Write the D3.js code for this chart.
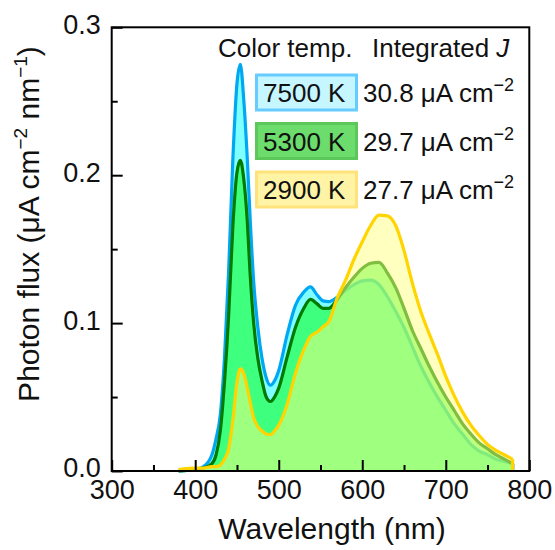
<!DOCTYPE html>
<html>
<head>
<meta charset="utf-8">
<script src="https://cdn.jsdelivr.net/npm/d3@7"></script>
<style>
  body { margin: 0; background: #fff; }
  svg text { font-family: "Liberation Sans", Arial, sans-serif; fill: #111; }
</style>
</head>
<body>
<div id="chart"></div>
<script>
(function(global) {
"use strict";

// wavelength grid (nm) and photon flux (uA cm-2 nm-1)
const wavelength = [380, 400, 410, 420, 425, 430, 435, 440, 445, 450, 454, 458, 462, 466, 470, 475, 480, 485, 490, 495,
                    500, 510, 520, 530, 538, 546, 553, 560, 570, 580, 590, 600, 610, 620, 630, 640, 650, 660, 670, 680,
                    690, 700, 710, 720, 730, 740, 750, 760, 770, 780];
const flux7500 = [0.000, 0.001, 0.003, 0.011, 0.022, 0.038, 0.076, 0.135, 0.210, 0.262, 0.275, 0.252, 0.215, 0.168, 0.128, 0.097, 0.076, 0.063, 0.058, 0.061,
                  0.068, 0.092, 0.112, 0.121, 0.1245, 0.119, 0.115, 0.1145, 0.1175, 0.122, 0.126, 0.1285, 0.129, 0.126, 0.118, 0.108, 0.097, 0.084, 0.071, 0.060,
                  0.050, 0.041, 0.032, 0.025, 0.018, 0.0135, 0.011, 0.008, 0.0065, 0.005];
const flux5300 = [0.000, 0.001, 0.002, 0.005, 0.011, 0.027, 0.060, 0.105, 0.165, 0.202, 0.210, 0.198, 0.172, 0.131, 0.100, 0.076, 0.061, 0.050, 0.047, 0.050,
                  0.056, 0.077, 0.097, 0.110, 0.116, 0.113, 0.110, 0.110, 0.116, 0.124, 0.131, 0.137, 0.1405, 0.141, 0.134, 0.124, 0.110, 0.095, 0.083, 0.071,
                  0.060, 0.050, 0.041, 0.032, 0.025, 0.019, 0.015, 0.011, 0.008, 0.005];
const flux2900 = [0.001, 0.002, 0.002, 0.003, 0.003, 0.004, 0.008, 0.015, 0.034, 0.060, 0.069, 0.066, 0.057, 0.046, 0.036, 0.030, 0.027, 0.025, 0.0245, 0.027,
                  0.031, 0.045, 0.066, 0.082, 0.091, 0.094, 0.0975, 0.101, 0.117, 0.129, 0.143, 0.155, 0.166, 0.173, 0.1725, 0.166, 0.149, 0.127, 0.108, 0.093,
                  0.079, 0.064, 0.051, 0.040, 0.031, 0.024, 0.018, 0.014, 0.011, 0.008];

const colorTemps = ["7500 K", "5300 K", "2900 K"];
const integratedJ = ["30.8", "29.7", "27.7"];

const xMajor = [300, 400, 500, 600, 700, 800];
const xMinor = [350, 450, 550, 650, 750];
const yMajor = [0.0, 0.1, 0.2, 0.3];
const yMinor = [0.05, 0.15, 0.25];

const series = [
  { flux: flux7500, line: "#00a8f4", fill: "#00ffff", fillOp: 0.5, box: "#c6f6ff", boxLine: "#66ccff" },
  { flux: flux5300, line: "#007a00", fill: "#00ff00", fillOp: 0.5, box: "#6cdc6c", boxLine: "#5cc85c" },
  { flux: flux2900, line: "#ffd400", fill: "#ffff80", fillOp: 0.5, box: "#fff4a6", boxLine: "#ffe27a" }
];

const W = 555, H = 550;
const m = { left: 111.7, top: 27.3, right: 529.3, bottom: 471 };

const svg = d3.select("#chart")
              .append("svg")
              .attr("width", W)
              .attr("height", H);

const x = d3.scaleLinear().domain([300, 800]).range([m.left, m.right]);
const y = d3.scaleLinear().domain([0, 0.3]).range([m.bottom, m.top]);

const area = d3.area()
               .x((d, i) => x(wavelength[i]))
               .y0(y(0))
               .y1(d => y(d))
               .curve(d3.curveMonotoneX);
const line = d3.line()
               .x((d, i) => x(wavelength[i]))
               .y(d => y(d))
               .curve(d3.curveMonotoneX);

const plot = svg.append("g");
series.forEach(s => {
  plot.append("path")
      .attr("d", area(s.flux))
      .attr("fill", s.fill)
      .attr("fill-opacity", s.fillOp);
  plot.append("path")
      .attr("d", line(s.flux))
      .attr("fill", "none")
      .attr("stroke", s.line)
      .attr("stroke-width", 3.2)
      .attr("stroke-linejoin", "round");
  // closing edge at the end of the spectrum
  const last = wavelength.length - 1;
  plot.append("line")
      .attr("x1", x(wavelength[last])).attr("x2", x(wavelength[last]))
      .attr("y1", y(s.flux[last])).attr("y2", y(0))
      .attr("stroke", s.line)
      .attr("stroke-width", 3.2);
});

// axes -----------------------------------------------------------------------
const fontTick = 27;
svg.append("g")
   .attr("transform", `translate(0,${m.bottom})`)
   .call(d3.axisBottom(x).tickValues(xMajor).tickSize(-11).tickPadding(9));
svg.append("g")
   .attr("transform", `translate(0,${m.bottom})`)
   .call(d3.axisBottom(x).tickValues(xMinor).tickSize(-6).tickFormat(""));
svg.append("g")
   .attr("class", "y-major")
   .attr("transform", `translate(${m.left},0)`)
   .call(d3.axisLeft(y).tickValues(yMajor).tickSize(-11).tickPadding(11).tickFormat(d3.format(".1f")));
svg.append("g")
   .attr("transform", `translate(${m.left},0)`)
   .call(d3.axisLeft(y).tickValues(yMinor).tickSize(-6).tickFormat(""));

svg.selectAll(".domain").remove();
svg.selectAll(".tick line").attr("stroke", "#000").attr("stroke-width", 2);
svg.selectAll(".tick text")
   .attr("font-size", fontTick)
   .attr("font-family", "Liberation Sans, Arial, sans-serif")
   .attr("fill", "#111");
// y labels sit a little above their ticks, as in the figure
svg.selectAll(".y-major .tick text").attr("dy", "0.22em");

svg.append("rect")
   .attr("x", m.left).attr("y", m.top)
   .attr("width", m.right - m.left).attr("height", m.bottom - m.top)
   .attr("fill", "none")
   .attr("stroke", "#000")
   .attr("stroke-width", 2);

// axis titles ----------------------------------------------------------------
svg.append("text")
   .attr("x", 332).attr("y", 539)
   .attr("text-anchor", "middle")
   .attr("font-size", 30)
   .text("Wavelength (nm)");

const yTitle = svg.append("text")
                  .attr("transform", "translate(39,224) rotate(-90)")
                  .attr("text-anchor", "middle")
                  .attr("font-size", 30);
yTitle.append("tspan").text("Photon flux (μA cm");
yTitle.append("tspan").attr("font-size", 19).attr("dy", -12).text("−2");
yTitle.append("tspan").attr("dy", 12).text(" nm");
yTitle.append("tspan").attr("font-size", 19).attr("dy", -12).text("−1");
yTitle.append("tspan").attr("dy", 12).text(")");

// legend ---------------------------------------------------------------------
const fontLeg = 26;
svg.append("text").attr("x", 218).attr("y", 57).attr("font-size", fontLeg).text("Color temp.");
svg.append("text").attr("x", 372).attr("y", 57).attr("font-size", fontLeg)
   .call(t => {
     t.append("tspan").text("Integrated ");
     t.append("tspan").attr("font-style", "italic").text("J");
   });

const rowY = [75, 123.5, 172];
colorTemps.forEach((label, i) => {
  const s = series[i];
  svg.append("rect")
     .attr("x", 256.5).attr("y", rowY[i])
     .attr("width", 100).attr("height", 35)
     .attr("fill", s.box)
     .attr("stroke", s.boxLine)
     .attr("stroke-width", 3);
  svg.append("text")
     .attr("x", 263).attr("y", rowY[i] + 27)
     .attr("font-size", fontLeg)
     .text(label);
  const t = svg.append("text")
               .attr("x", 363).attr("y", rowY[i] + 27)
               .attr("font-size", fontLeg);
  t.append("tspan").text(integratedJ[i] + " μA cm");
  t.append("tspan").attr("font-size", 18).attr("dy", -11).text("−2");
});

})(this);
</script>
</body>
</html>
